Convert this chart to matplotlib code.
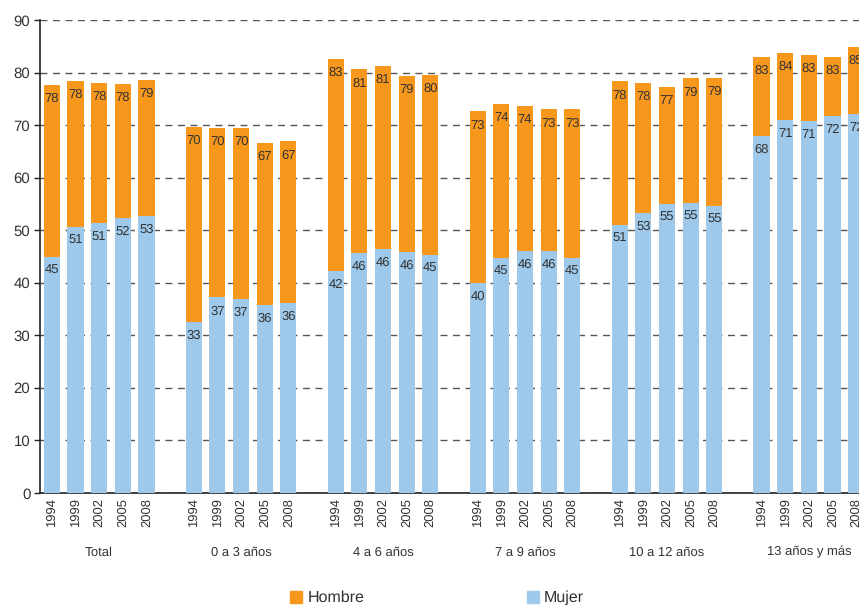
import matplotlib.pyplot as plt
import matplotlib.transforms as mtransforms
from matplotlib.patches import Rectangle
import numpy as np

# datos
grupos = ['Total', '0 a 3 años', '4 a 6 años', '7 a 9 años', '10 a 12 años', '13 años y más']
anios = ['1994', '1999', '2002', '2005', '2008']

hombre = [
    [77.7, 78.4, 78.1, 77.9, 78.6],
    [69.7, 69.5, 69.5, 66.6, 66.9],
    [82.6, 80.6, 81.3, 79.4, 79.5],
    [72.6, 74.1, 73.7, 73.0, 73.0],
    [78.3, 78.1, 77.3, 78.9, 79.0],
    [83.0, 83.8, 83.4, 83.0, 84.9],
]
mujer = [
    [45.0, 50.6, 51.3, 52.4, 52.8],
    [32.6, 37.2, 37.0, 35.8, 36.2],
    [42.3, 45.7, 46.4, 45.9, 45.3],
    [40.0, 44.8, 46.1, 46.1, 44.8],
    [51.0, 53.3, 55.0, 55.2, 54.6],
    [68.0, 70.9, 70.7, 71.8, 72.2],
]

naranja = '#F7981D'
azul = '#9EC9EA'
texto = '#333333'

plt.rcParams['font.family'] = ['Liberation Sans', 'DejaVu Sans']
plt.rcParams['text.hinting'] = 'no_hinting'
plt.rcParams['text.hinting_factor'] = 1

fig = plt.figure(figsize=(8.59, 6.05), dpi=100)
# el eje se sale un poco por la derecha, como en el original
ax = fig.add_axes([40 / 859, 112 / 605, 828 / 859, 473 / 605])

x = np.array([g * 6 + i for g in range(len(grupos)) for i in range(len(anios))])
h = np.array(hombre).ravel()
m = np.array(mujer).ravel()
ancho = 0.68

ax.bar(x, h, width=ancho, color=naranja, zorder=2)
ax.bar(x, m, width=ancho, color=azul, zorder=3)

# etiquetas de valores dentro de las barras
for xi, hi, mi in zip(x, h, m):
    ax.annotate(f'{round(hi)}', (xi, hi), xytext=(0, -5.5), textcoords='offset points',
                ha='center', va='top', fontsize=9.5, color=texto, zorder=4)
    ax.annotate(f'{round(mi)}', (xi, mi), xytext=(0, -5.5), textcoords='offset points',
                ha='center', va='top', fontsize=9.5, color=texto, zorder=4)

ax.set_xlim(-0.5, 34.5)
ax.set_ylim(0, 90)
ax.set_yticks(range(0, 91, 10))
ax.set_xticks(x)
ax.set_xticklabels(anios * len(grupos), rotation=90, fontsize=9.5, color=texto)
ax.tick_params(axis='x', length=0, pad=4)
ax.tick_params(axis='y', length=4, width=1, labelsize=10.5, colors='#222222', labelcolor=texto, pad=3)

ax.grid(True, axis='y', linestyle=(0, (5, 4)), color='#555555', linewidth=1, zorder=1)
ax.set_axisbelow(True)

for lado in ['top', 'right']:
    ax.spines[lado].set_visible(False)
ax.spines['left'].set_color('#222222')
ax.spines['bottom'].set_color('#222222')
ax.spines['left'].set_linewidth(1.2)
ax.spines['bottom'].set_linewidth(1.2)

# nombres de los grupos
trans = mtransforms.blended_transform_factory(ax.transData, ax.transAxes)
for g, nombre in enumerate(grupos):
    ax.text(g * 6 + 2, -0.125, nombre, transform=trans, ha='center', va='center',
            fontsize=9.5, color=texto)

# leyenda abajo
fig.patches.append(Rectangle((290 / 859, 2 / 605), 12 / 859, 12 / 605,
                             transform=fig.transFigure, color=naranja))
fig.text(308 / 859, 7 / 605, 'Hombre', fontsize=11.5, color=texto, va='center')
fig.patches.append(Rectangle((527 / 859, 2 / 605), 12 / 859, 12 / 605,
                             transform=fig.transFigure, color=azul))
fig.text(544 / 859, 7 / 605, 'Mujer', fontsize=11.5, color=texto, va='center')

fig.savefig('out.png', dpi=100)
